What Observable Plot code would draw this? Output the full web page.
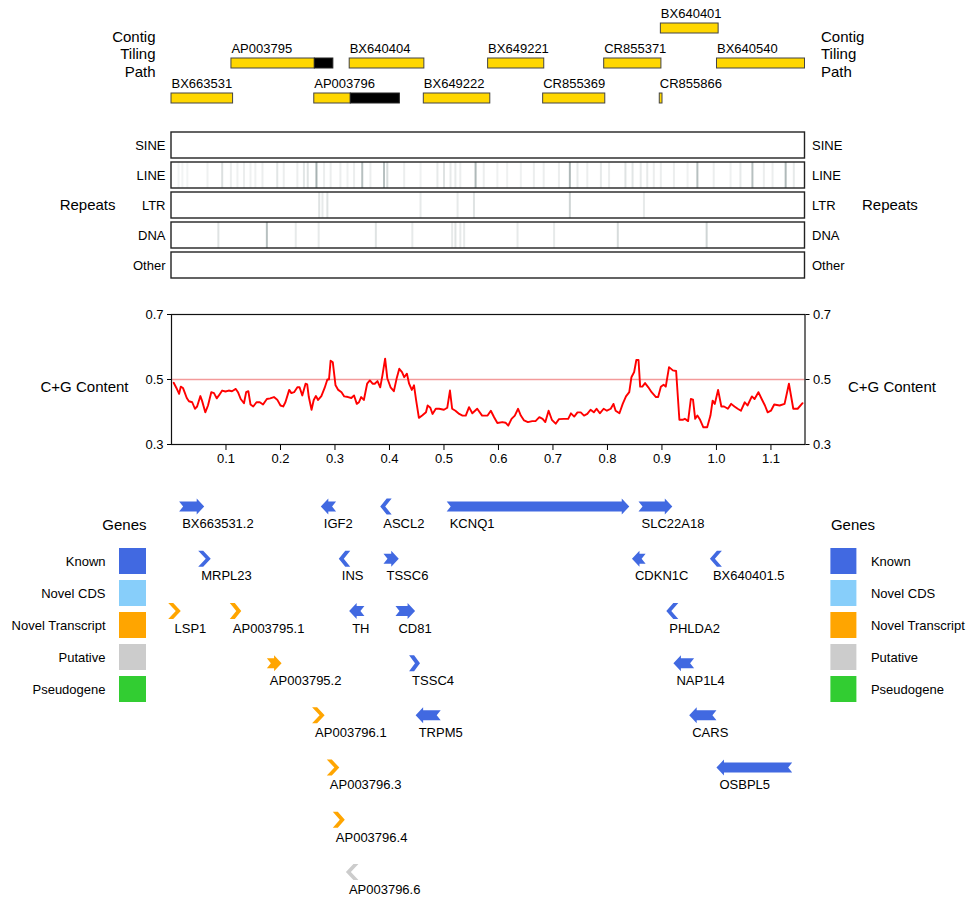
<!DOCTYPE html>
<html><head><meta charset="utf-8">
<script src="https://cdn.jsdelivr.net/npm/d3@7"></script>
<script src="https://cdn.jsdelivr.net/npm/@observablehq/plot@0.6"></script>
<style>
body{margin:0;background:#fff;}
#chart{position:relative;width:967px;height:899px;background:#fff;}
#chart svg{position:absolute;}
</style></head><body><div id="chart"></div>
<script>
// ---------------- DATA ----------------
const regionEnd = 1.1625; // Mb
const xTicks = [0.1,0.2,0.3,0.4,0.5,0.6,0.7,0.8,0.9,1.0,1.1];
const gcTicks = [0.3,0.5,0.7];
const gcThreshold = 0.5;

// contig tiling path
const contigNames = ["BX663531","AP003795","AP003796","BX640404","BX649222","BX649221","CR855369","CR855371","CR855866","BX640401","BX640540"];
const contigRow   = [3,2,3,2,3,2,3,2,3,1,2];
const contigStart = [0.000,0.110,0.262,0.327,0.463,0.581,0.682,0.794,0.896,0.898,1.001];
const contigFinishedEnd = [0.113,0.263,0.329,0.464,0.585,0.684,0.796,0.899,0.901,1.004,1.1625];
const contigEnd   = [0.113,0.297,0.419,0.464,0.585,0.684,0.796,0.899,0.901,1.004,1.1625];

// repeats: [position Mb, density]
const repeatClasses = ["SINE","LINE","LTR","DNA","Other"];
const lineRepeats = [[0.013,0.08],[0.020,0.08],[0.029,0.08],[0.066,0.1],[0.093,0.22],[0.109,0.12],[0.121,0.1],[0.133,0.12],[0.145,0.1],[0.154,0.1],[0.167,0.12],[0.194,0.18],[0.206,0.12],[0.231,0.12],[0.243,0.18],[0.250,0.2],[0.266,0.55],[0.280,0.12],[0.292,0.12],[0.310,0.12],[0.323,0.1],[0.335,0.12],[0.350,0.45],[0.365,0.12],[0.390,0.45],[0.396,0.25],[0.427,0.12],[0.457,0.1],[0.488,0.15],[0.500,0.2],[0.512,0.15],[0.521,0.15],[0.530,0.12],[0.558,0.5],[0.573,0.12],[0.598,0.1],[0.616,0.1],[0.641,0.1],[0.665,0.12],[0.683,0.12],[0.711,0.12],[0.731,0.5],[0.745,0.15],[0.763,0.12],[0.788,0.15],[0.803,0.12],[0.833,0.2],[0.846,0.18],[0.861,0.15],[0.873,0.15],[0.885,0.12],[0.898,0.12],[0.922,0.12],[0.947,0.1],[0.965,0.45],[0.995,0.12],[1.026,0.1],[1.044,0.15],[1.066,0.45],[1.087,0.12],[1.103,0.12],[1.127,0.5],[1.142,0.15]];
const ltrRepeats = [[0.271,0.2],[0.277,0.15],[0.286,0.2],[0.457,0.15],[0.525,0.15],[0.555,0.2],[0.731,0.3],[0.867,0.15]];
const dnaRepeats = [[0.086,0.2],[0.175,0.45],[0.228,0.15],[0.270,0.15],[0.375,0.2],[0.442,0.15],[0.515,0.15],[0.521,0.2],[0.530,0.15],[0.537,0.15],[0.635,0.15],[0.702,0.15],[0.819,0.25],[0.982,0.3]];

// C+G content: [position Mb, fraction]
const gcPoints = [[0.004,0.490],[0.009,0.474],[0.014,0.456],[0.017,0.478],[0.021,0.474],[0.024,0.461],[0.028,0.443],[0.032,0.433],[0.038,0.430],[0.043,0.410],[0.047,0.417],[0.053,0.449],[0.056,0.435],[0.062,0.399],[0.067,0.420],[0.073,0.461],[0.078,0.458],[0.083,0.442],[0.087,0.451],[0.093,0.466],[0.099,0.463],[0.105,0.466],[0.111,0.464],[0.118,0.471],[0.122,0.461],[0.127,0.440],[0.133,0.427],[0.137,0.461],[0.141,0.464],[0.145,0.423],[0.150,0.417],[0.156,0.430],[0.162,0.430],[0.168,0.423],[0.175,0.440],[0.181,0.442],[0.188,0.446],[0.194,0.438],[0.200,0.420],[0.205,0.417],[0.209,0.430],[0.216,0.468],[0.220,0.458],[0.225,0.461],[0.231,0.476],[0.235,0.476],[0.240,0.451],[0.246,0.487],[0.249,0.485],[0.252,0.446],[0.257,0.407],[0.261,0.437],[0.265,0.449],[0.269,0.437],[0.275,0.449],[0.281,0.474],[0.286,0.500],[0.289,0.500],[0.292,0.558],[0.296,0.553],[0.301,0.482],[0.306,0.468],[0.312,0.461],[0.317,0.448],[0.324,0.446],[0.330,0.443],[0.335,0.451],[0.340,0.425],[0.344,0.430],[0.348,0.446],[0.353,0.437],[0.359,0.487],[0.364,0.497],[0.369,0.487],[0.373,0.487],[0.378,0.495],[0.383,0.476],[0.387,0.512],[0.392,0.564],[0.396,0.504],[0.402,0.476],[0.408,0.464],[0.413,0.502],[0.418,0.533],[0.423,0.523],[0.427,0.507],[0.432,0.518],[0.436,0.487],[0.441,0.468],[0.445,0.482],[0.449,0.435],[0.454,0.382],[0.460,0.389],[0.467,0.399],[0.470,0.420],[0.475,0.413],[0.479,0.394],[0.485,0.410],[0.491,0.410],[0.500,0.407],[0.506,0.413],[0.511,0.466],[0.515,0.410],[0.521,0.404],[0.528,0.394],[0.534,0.389],[0.540,0.389],[0.546,0.415],[0.552,0.396],[0.561,0.410],[0.570,0.389],[0.580,0.389],[0.586,0.404],[0.592,0.384],[0.598,0.366],[0.607,0.369],[0.613,0.367],[0.618,0.358],[0.624,0.379],[0.630,0.389],[0.636,0.410],[0.641,0.389],[0.647,0.374],[0.654,0.369],[0.662,0.372],[0.668,0.372],[0.675,0.384],[0.681,0.379],[0.686,0.369],[0.692,0.404],[0.698,0.376],[0.705,0.364],[0.711,0.378],[0.720,0.379],[0.728,0.379],[0.733,0.396],[0.739,0.386],[0.745,0.399],[0.751,0.399],[0.757,0.389],[0.763,0.394],[0.769,0.407],[0.775,0.399],[0.780,0.410],[0.786,0.396],[0.793,0.410],[0.799,0.404],[0.806,0.410],[0.811,0.425],[0.815,0.404],[0.822,0.396],[0.828,0.425],[0.834,0.448],[0.840,0.461],[0.844,0.507],[0.849,0.523],[0.853,0.560],[0.857,0.560],[0.860,0.478],[0.864,0.478],[0.869,0.489],[0.875,0.476],[0.881,0.461],[0.889,0.446],[0.893,0.446],[0.898,0.478],[0.903,0.484],[0.907,0.478],[0.913,0.538],[0.920,0.528],[0.926,0.526],[0.932,0.376],[0.938,0.376],[0.942,0.379],[0.948,0.372],[0.953,0.440],[0.957,0.438],[0.961,0.379],[0.965,0.389],[0.970,0.376],[0.976,0.353],[0.983,0.353],[0.989,0.389],[0.993,0.435],[0.997,0.425],[1.003,0.468],[1.009,0.417],[1.014,0.417],[1.021,0.410],[1.027,0.425],[1.033,0.417],[1.039,0.410],[1.045,0.404],[1.052,0.430],[1.057,0.420],[1.065,0.448],[1.070,0.440],[1.077,0.461],[1.083,0.440],[1.089,0.420],[1.094,0.399],[1.100,0.404],[1.106,0.423],[1.116,0.420],[1.125,0.425],[1.133,0.487],[1.141,0.410],[1.149,0.410],[1.158,0.427]];

// genes
const geneTypes  = ["Known","Novel CDS","Novel Transcript","Putative","Pseudogene"];
const geneColors = ["#4169E1","#87CEFA","#FFA500","#CCCCCC","#32CD32"];
const geneNames  = ["BX663531.2","IGF2","ASCL2","KCNQ1","SLC22A18","MRPL23","INS","TSSC6","CDKN1C","BX640401.5","LSP1","AP003795.1","TH","CD81","PHLDA2","AP003795.2","TSSC4","NAP1L4","AP003796.1","TRPM5","CARS","AP003796.3","OSBPL5","AP003796.4","AP003796.6"];
const geneRow    = [0,0,0,0,0,1,1,1,1,1,2,2,2,2,2,3,3,3,4,4,4,5,5,6,7];
const geneStart  = [0.014,0.274,0.383,0.505,0.857,0.049,0.307,0.389,0.845,0.988,-0.006,0.107,0.326,0.411,0.908,0.175,0.436,0.921,0.258,0.448,0.950,0.285,1.000,0.296,0.320];
const geneEnd    = [0.060,0.302,0.404,0.840,0.919,0.072,0.328,0.417,0.870,1.010,0.017,0.128,0.354,0.447,0.930,0.202,0.456,0.959,0.281,0.494,1.000,0.308,1.139,0.318,0.343];
const geneStrand = [1,-1,-1,1,1,1,-1,1,-1,-1,1,1,-1,1,-1,1,1,-1,1,-1,-1,1,-1,1,-1];
const geneType   = ["Known","Known","Known","Known","Known","Known","Known","Known","Known","Known","Novel Transcript","Novel Transcript","Known","Known","Known","Novel Transcript","Known","Known","Novel Transcript","Known","Known","Novel Transcript","Known","Novel Transcript","Putative"];

// ---------------- LAYOUT ----------------
const W = 967, ML = 171, MR = 162.5;
const FONT = '"Liberation Sans", Arial, Helvetica, sans-serif';
const style = {fontFamily: FONT, fontSize: "13px", background: "transparent", color: "black", overflow: "visible"};
const chart = document.getElementById("chart");
function place(svg, top, left = 0) { svg.style.top = top + "px"; svg.style.left = left + "px"; chart.appendChild(svg); }

// ---------------- CONTIG PANEL ----------------
const contigs = contigNames.map((n, i) => ({name: n, row: contigRow[i], start: contigStart[i], fin: contigFinishedEnd[i], end: contigEnd[i]}));
place(Plot.plot({
  width: W, height: 112, marginLeft: ML, marginRight: MR, marginTop: 22, marginBottom: 8,
  style,
  x: {domain: [0, regionEnd], axis: null},
  y: {type: "band", domain: [1,2,3], paddingInner: 0.706, paddingOuter: 0, axis: null},
  marks: [
    Plot.barX(contigs, {x1: "start", x2: "fin", y: "row", fill: "#FFD700", stroke: "#444", strokeWidth: 1, inset: 0}),
    Plot.barX(contigs.filter(d => d.end > d.fin), {x1: "fin", x2: "end", y: "row", fill: "black", stroke: "#222", strokeWidth: 1, inset: 0}),
    Plot.text(contigs, {x: "start", y: "row", text: "name", textAnchor: "start", dy: -14.3, fontSize: 13}),
    Plot.text(["Contig\nTiling\nPath"], {text: d => d, frameAnchor: "left", dx: -16, dy: -9.7, textAnchor: "end", lineAnchor: "middle", lineHeight: 1.17, fontSize: 15}),
    Plot.text(["Contig\nTiling\nPath"], {text: d => d, frameAnchor: "right", dx: 16, dy: -9.7, textAnchor: "start", lineAnchor: "middle", lineHeight: 1.17, fontSize: 15})
  ]
}), 0);

// ---------------- REPEATS PANEL ----------------
const repeats = [
  ...lineRepeats.map(([x, d]) => ({cls: "LINE", x, d})),
  ...ltrRepeats.map(([x, d]) => ({cls: "LTR", x, d})),
  ...dnaRepeats.map(([x, d]) => ({cls: "DNA", x, d}))
];
place(Plot.plot({
  width: W, height: 170, marginLeft: ML, marginRight: MR, marginTop: 11, marginBottom: 10.6,
  style,
  x: {domain: [0, regionEnd], axis: null},
  y: {type: "band", domain: repeatClasses, paddingInner: 0.15, paddingOuter: 0, axis: null},
  marks: [
    Plot.cell(repeatClasses, {y: d => d, fill: "white"}),
    Plot.tickX(repeats, {x: "x", y: "cls", stroke: "#5f7373", strokeOpacity: "d", strokeWidth: 2}),
    Plot.cell(repeatClasses, {y: d => d, fill: "none", stroke: "#222", strokeWidth: 1.4}),
    Plot.text(repeatClasses, {y: d => d, text: d => d, frameAnchor: "left", dx: -6, textAnchor: "end", fontSize: 13}),
    Plot.text(repeatClasses, {y: d => d, text: d => d, frameAnchor: "right", dx: 7, textAnchor: "start", fontSize: 13}),
    Plot.text([{cls: "LTR", t: "Repeats"}], {y: "cls", text: "t", frameAnchor: "left", dx: -56, textAnchor: "end", fontSize: 15}),
    Plot.text([{cls: "LTR", t: "Repeats"}], {y: "cls", text: "t", frameAnchor: "right", dx: 57, textAnchor: "start", fontSize: 15})
  ]
}), 120);

// ---------------- C+G CONTENT PANEL ----------------
const gc = gcPoints.map(([x, v]) => ({x, v}));
place(Plot.plot({
  width: W, height: 180, marginLeft: ML, marginRight: MR, marginTop: 24, marginBottom: 26,
  style,
  x: {domain: [0, regionEnd], ticks: xTicks, tickFormat: ".1f", tickSize: 6, tickPadding: 3, label: null},
  y: {domain: [0.3, 0.7], ticks: gcTicks, tickFormat: ".1f", axis: "both", tickSize: 4, tickPadding: 4, label: null},
  marks: [
    Plot.ruleY([gcThreshold], {stroke: "#f39a9a", strokeWidth: 1.5}),
    Plot.line(gc, {x: "x", y: "v", stroke: "#ff0000", strokeWidth: 1.9}),
    Plot.frame({stroke: "#111", strokeWidth: 1.2}),
    Plot.text(["C+G Content"], {text: d => d, frameAnchor: "left", dx: -43, dy: 8, textAnchor: "end", lineAnchor: "middle", fontSize: 15}),
    Plot.text(["C+G Content"], {text: d => d, frameAnchor: "right", dx: 43, dy: 8, textAnchor: "start", lineAnchor: "middle", fontSize: 15})
  ]
}), 290);

// ---------------- GENES PANEL ----------------
const genes = geneNames.map((n, i) => ({name: n, row: geneRow[i], start: geneStart[i], end: geneEnd[i], strand: geneStrand[i], type: geneType[i]}));
const GH = 419, GY0 = 26, GY1 = 391.5, ROWS = 8;
const pxPerMb = (W - ML - MR) / regionEnd;
const pxPerRow = (GY1 - GY0) / (ROWS - 1);
const HEAD = 7.5, HALF = 8, BODY = 5, NOTCH = 4, THICK = 5;
function glyph(g) {
  const len = (g.end - g.start) * pxPerMb;
  const pts = len >= HEAD + 6
    ? [[0,-BODY],[len-HEAD,-BODY],[len-HEAD,-HALF],[len,0],[len-HEAD,HALF],[len-HEAD,BODY],[0,BODY],[NOTCH,0]]
    : [[0,-HALF],[THICK,-HALF],[len,0],[THICK,HALF],[0,HALF],[len-THICK,0]];
  return pts.map(([a, c]) => ({
    name: g.name, type: g.type,
    x: g.strand > 0 ? g.start + a / pxPerMb : g.end - a / pxPerMb,
    y: g.row + c / pxPerRow
  }));
}
const glyphPts = genes.flatMap(glyph);
place(Plot.plot({
  width: W, height: GH, marginLeft: ML, marginRight: MR, marginTop: 0, marginBottom: 0,
  style,
  x: {domain: [0, regionEnd], axis: null},
  y: {domain: [0, ROWS - 1], range: [GY0, GY1], axis: null},
  marks: [
    ...geneTypes.map((t, i) => Plot.line(glyphPts.filter(p => p.type === t), {x: "x", y: "y", z: "name", fill: geneColors[i], stroke: "none", curve: "linear"})),
    Plot.text(genes, {x: d => Math.max(d.start, 0), y: "row", text: "name", textAnchor: "start", dx: 3, dy: 17.6, fontSize: 13})
  ]
}), 480);

// ---------------- LEGENDS ----------------
function legend(side) {
  const left = side === "left";
  return Plot.plot({
    width: left ? 160 : 277, height: 220,
    marginTop: 47.3, marginBottom: 16.7,
    marginLeft: left ? 119 : 140.4, marginRight: left ? 14 : 110.6,
    style,
    y: {type: "band", domain: geneTypes, paddingInner: 0.185, paddingOuter: 0, axis: null},
    color: {domain: geneTypes, range: geneColors},
    marks: [
      Plot.cell(geneTypes, {y: d => d, fill: d => d, inset: 0}),
      Plot.text(geneTypes, {y: d => d, text: d => d, frameAnchor: left ? "left" : "right", dx: left ? -14 : 14, textAnchor: left ? "end" : "start", fontSize: 13}),
      Plot.text(["Genes"], {text: d => d, frameAnchor: left ? "top-right" : "top-left", dy: -23, textAnchor: left ? "end" : "start", lineAnchor: "middle", fontSize: 15})
    ]
  });
}
place(legend("left"), 500, 0);
place(legend("right"), 500, 690);
</script></body></html>
